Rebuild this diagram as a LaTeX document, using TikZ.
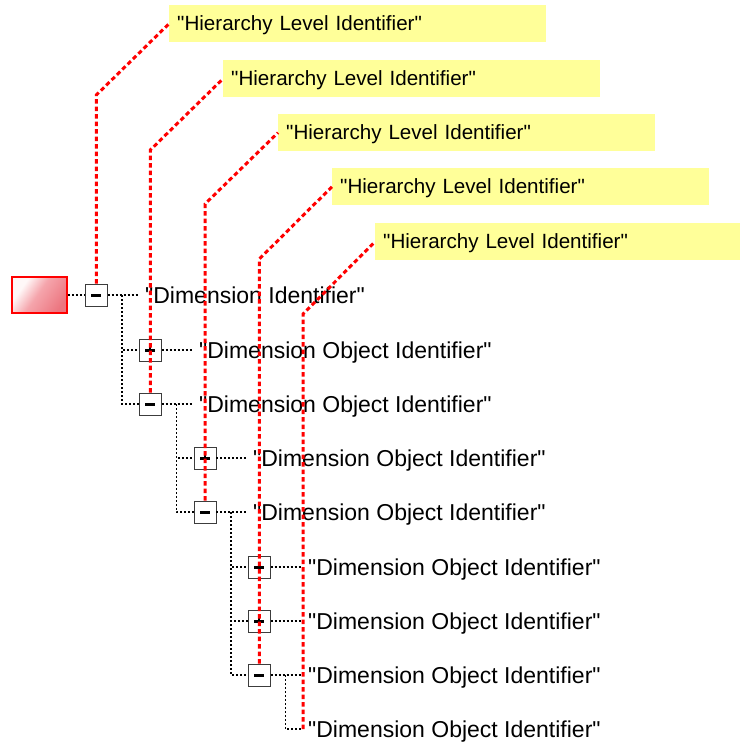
\documentclass[tikz,border=0pt]{standalone}
\usepackage{fontspec}
\setmainfont{Liberation Sans}[Ligatures=TeXOff]
\definecolor{lblyellow}{RGB}{255,255,153}
\definecolor{rootlight}{RGB}{255,248,248}
\definecolor{rootmid}{RGB}{245,165,172}
\definecolor{rootdark}{RGB}{236,118,128}
\definecolor{boxgray}{RGB}{60,60,60}
\pgfdeclarehorizontalshading{rootshade}{100bp}{color(0bp)=(rootlight); color(30bp)=(rootlight); color(48bp)=(rootmid); color(75bp)=(rootdark); color(100bp)=(rootdark)}
\begin{document}
\begin{tikzpicture}[x=1pt,y=-1pt,
  tree/.style={draw=black, line width=1.1pt, dash pattern=on 2pt off 2pt},
  callout/.style={draw=red, line width=3pt, dash pattern=on 4.5pt off 3pt},
  togglebox/.style={draw=boxgray, fill=white, line width=0.8pt, minimum size=22pt, inner sep=0pt},
  minusbox/.style={togglebox, path picture={
     \fill[black] ([xshift=-5pt,yshift=-1.5pt]path picture bounding box.center) rectangle ([xshift=5pt,yshift=1.5pt]path picture bounding box.center);}},
  plusbox/.style={togglebox, path picture={
     \fill[black] ([xshift=-5pt,yshift=-1.5pt]path picture bounding box.center) rectangle ([xshift=5pt,yshift=1.5pt]path picture bounding box.center);
     \fill[black] ([xshift=-1pt,yshift=-5pt]path picture bounding box.center) rectangle ([xshift=1pt,yshift=5pt]path picture bounding box.center);}},
  rootbox/.style={draw=red, line width=1.5pt, minimum width=55pt, minimum height=36pt, inner sep=0pt,
     shading=rootshade, shading angle=-35},
  dimtext/.style={font=\fontsize{23}{27}\selectfont, inner sep=0pt, text height=16.5pt, text depth=0pt, anchor=west},
  hlabel/.style={fill=lblyellow, font=\fontsize{20.6}{24}\selectfont, anchor=north west, inner xsep=8pt, inner ysep=0pt,
     minimum height=37pt, text height=13pt, text depth=0pt, align=left, text width=361pt}
]
\useasboundingbox (0,0) rectangle (740,742);

% hierarchy labels
\node[hlabel] (h1) at (169,5) {"Hierarchy Level Identifier"};
\node[hlabel] (h2) at (223,60) {"Hierarchy Level Identifier"};
\node[hlabel] (h3) at (278,114) {"Hierarchy Level Identifier"};
\node[hlabel] (h4) at (332,168) {"Hierarchy Level Identifier"};
\node[hlabel, text width=349pt] (h5) at (375,223) {"Hierarchy Level Identifier"};

% root
\node[rootbox] (root) at (39.5,295) {};

% toggle boxes
\node[minusbox] (b0) at (96.3,295) {};
\node[plusbox]  (b1) at (150.3,350) {};
\node[minusbox] (b2) at (150.3,404) {};
\node[plusbox]  (b3) at (205,458) {};
\node[minusbox] (b4) at (205,512) {};
\node[plusbox]  (b5) at (259.3,567) {};
\node[plusbox]  (b6) at (259.3,621) {};
\node[minusbox] (b7) at (259.3,675) {};

% texts
\node[dimtext] (t0) at (145,295) {"Dimension Identifier"};
\node[dimtext] (t1) at (199,350) {"Dimension Object Identifier"};
\node[dimtext] (t2) at (199,404) {"Dimension Object Identifier"};
\node[dimtext] (t3) at (253,458) {"Dimension Object Identifier"};
\node[dimtext] (t4) at (253,512) {"Dimension Object Identifier"};
\node[dimtext] (t5) at (308,567) {"Dimension Object Identifier"};
\node[dimtext] (t6) at (308,621) {"Dimension Object Identifier"};
\node[dimtext] (t7) at (308,675) {"Dimension Object Identifier"};
\node[dimtext] (t8) at (308,729) {"Dimension Object Identifier"};

% junctions
\coordinate (j0) at (122,295);
\coordinate (j2) at (176.3,404);
\coordinate (j4) at (231,512);
\coordinate (j7) at (285.3,675);

% tree connectors
\draw[tree] (root.east) -- (b0.west);
\draw[tree] (b0.east) -- ([xshift=-7pt]t0.west);
\draw[tree] (b1.east) -- ([xshift=-7pt]t1.west);
\draw[tree] (b2.east) -- ([xshift=-7pt]t2.west);
\draw[tree] (b3.east) -- ([xshift=-7pt]t3.west);
\draw[tree] (b4.east) -- ([xshift=-7pt]t4.west);
\draw[tree] (b5.east) -- ([xshift=-7pt]t5.west);
\draw[tree] (b6.east) -- ([xshift=-7pt]t6.west);
\draw[tree] (b7.east) -- ([xshift=-7pt]t7.west);
\draw[tree] (j0) |- (b1.west);
\draw[tree] (j0) |- (b2.west);
\draw[tree] (j2) |- (b3.west);
\draw[tree] (j2) |- (b4.west);
\draw[tree] (j4) |- (b5.west);
\draw[tree] (j4) |- (b6.west);
\draw[tree] (j4) |- (b7.west);
\draw[tree] (j7) |- ([xshift=-5pt]t8.west);

% callouts
\coordinate (k1) at (96.3,95);
\coordinate (k2) at (150.3,150);
\coordinate (k3) at (205,204);
\coordinate (k4) at (259.3,259);
\coordinate (k5) at (303,314);
\coordinate (leaf) at (303,729);
\draw[callout] (b0.north) -- (k1) -- (h1.west);
\draw[callout] (b2.north) -- (k2) -- (h2.west);
\draw[callout] (b4.north) -- (k3) -- (h3.west);
\draw[callout] (b7.north) -- (k4) -- (h4.west);
\draw[callout] (leaf) -- (k5) -- (h5.west);
\end{tikzpicture}
\end{document}
